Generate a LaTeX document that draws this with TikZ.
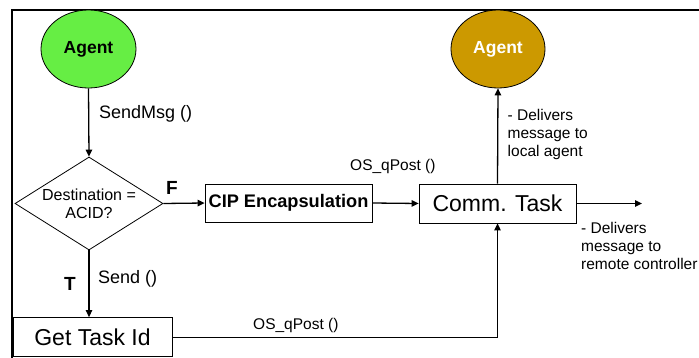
\documentclass[tikz,border=0pt]{standalone}
\usepackage{fontspec}
\setmainfont{Liberation Sans}
\usetikzlibrary{shapes.geometric,arrows.meta}
\definecolor{agentgreen}{RGB}{102,238,68}
\definecolor{agentbrown}{RGB}{204,153,0}
\tikzset{
  conn/.style={line width=1.3pt,-{Triangle[length=7pt,width=6.5pt]}},
  plainconn/.style={line width=1.3pt},
  taskbox/.style={draw,line width=0.8pt,inner sep=0pt},
  agent/.style={ellipse,draw,line width=0.8pt,inner sep=0pt,font=\fontsize{17.5}{20}\selectfont\bfseries},
  lbl/.style={font=\fontsize{18}{20}\selectfont,inner sep=0pt},
  qlbl/.style={font=\fontsize{15.5}{18}\selectfont,inner sep=0pt},
  note/.style={font=\fontsize{15.5}{18.2}\selectfont,inner sep=0pt,align=left},
  tf/.style={font=\fontsize{19}{21}\selectfont\bfseries,inner sep=0pt}
}
\begin{document}
\begin{tikzpicture}[x=1pt,y=-1pt]
\useasboundingbox (0,0) rectangle (699,358);
% frame
\draw[line width=2.2pt] (699,10) -- (12.2,10) -- (12.2,358);
% nodes
\node[agent,fill=agentgreen,minimum width=95pt,minimum height=78pt] (ag1) at (88.5,49) {Agent};
\node[agent,fill=agentbrown,text=white,minimum width=94pt,minimum height=78pt] (ag2) at (498,49) {Agent};
\node[diamond,draw,line width=0.8pt,inner sep=0pt,minimum width=148pt,minimum height=93pt] (dec) at (89,203.5) {};
\node[font=\fontsize{16}{18}\selectfont,align=center,inner sep=0pt] (dectxt) at (dec.center) {Destination =\\ACID?};
\node[taskbox,minimum width=167pt,minimum height=38pt,font=\fontsize{18.2}{20}\selectfont\bfseries] (cip) at (288.5,203) {CIP Encapsulation};
\node[taskbox,minimum width=157pt,minimum height=39pt,font=\fontsize{23}{25}\selectfont] (comm) at (497.5,203.5) {Comm. Task};
\node[taskbox,minimum width=159pt,minimum height=39pt,font=\fontsize{23}{25}\selectfont] (gettask) at (92.5,337) {Get Task Id};
\coordinate (remote) at (642,203.5);
\coordinate (corner) at (497.5,337.7);
% connectors
\draw[conn] (ag1.south) -- (dec.north);
\draw[conn] (dec.east) -- (cip.west);
\draw[conn] (cip.east) -- (comm.west);
\draw[conn] (comm.north) -- (ag2.south);
\draw[conn] (comm.east) -- (remote);
\draw[conn] (dec.south) -- (gettask.north -| dec.south);
\draw[plainconn] (gettask.east |- corner) -- (corner);
\draw[conn] (corner) -- (comm.south);
% labels
\node[lbl,anchor=west] (l1) at (99,114) {SendMsg ()};
\node[qlbl,anchor=west] (l2) at (350,166) {OS\_qPost ()};
\node[lbl,anchor=west] (l3) at (98,279) {Send ()};
\node[qlbl,anchor=west] (l4) at (253,325) {OS\_qPost ()};
\node[tf] (lt) at (70,283.5) {T};
\node[tf] (lf) at (172,188) {F};
\node[note,anchor=north west] (n1) at (507.5,109) {- Delivers\\message to\\local agent};
\node[note,anchor=north west] (n2) at (581,222) {- Delivers\\message to\\remote controller};
\end{tikzpicture}
\end{document}
